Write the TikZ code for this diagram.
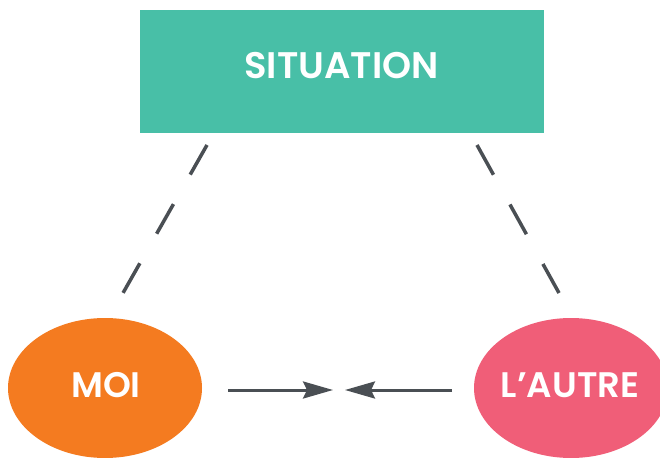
\documentclass[tikz,border=0pt]{standalone}
\usepackage{fontspec}
\setmainfont{Poppins}
\newfontfamily\popmed{Poppins SemiBold}
\usetikzlibrary{arrows.meta,shapes.geometric}
\definecolor{teal}{HTML}{48BFA7}
\definecolor{orng}{HTML}{F47B20}
\definecolor{pnk}{HTML}{F05E78}
\definecolor{gry}{HTML}{4A4F54}
\tikzset{
  lbl/.style={text=white, font=\popmed\fontsize{35.5}{38}\selectfont},
  blob/.style={ellipse, minimum width=194pt, minimum height=140pt, inner sep=0pt},
  link/.style={draw=gry, line width=3.5pt, dash pattern=on 34pt off 34pt},
  arr/.style={draw=gry, line width=3pt, -{Stealth[length=30pt,width=17pt,inset=4pt]}}
}
\begin{document}
\begin{tikzpicture}[x=1pt,y=-1pt]
\clip (0,0) rectangle (660,457);
\fill[white] (0,0) rectangle (660,457);
\node[fill=teal, minimum width=404pt, minimum height=123pt, inner sep=0pt] (sit) at (342,71.5) {};
\node[lbl, font=\popmed\fontsize{37}{40}\selectfont] (sitt) at (341.5,66) {SITUATION};
\node[blob, fill=orng] (moi) at (105,388) {};
\node[lbl] (moit) at (106,385) {MOI};
\node[blob, fill=pnk] (aut) at (571,388) {};
\node[lbl] (autt) at (570,385) {L’AUTRE};
\coordinate (l1) at (207,145);
\coordinate (l2) at (123,293);
\coordinate (r1) at (477,145);
\coordinate (r2) at (559,293);
\draw[link] (l1) -- (l2);
\draw[link] (r1) -- (r2);
\coordinate (a1) at (228,390);
\coordinate (a2) at (333,390);
\coordinate (b1) at (452,390);
\coordinate (b2) at (345,390);
\draw[arr] (a1) -- (a2);
\draw[arr] (b1) -- (b2);
\end{tikzpicture}
\end{document}
